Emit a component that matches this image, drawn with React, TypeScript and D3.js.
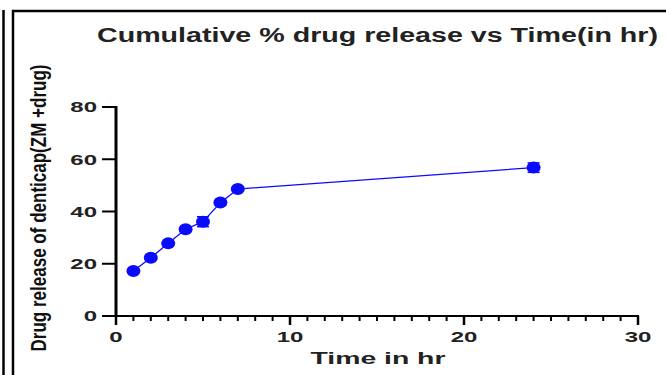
import React from "react";
import * as d3 from "d3";

const times = [1, 2, 3, 4, 5, 6, 7, 24];
const release = [17.2, 22.3, 27.8, 33.2, 36.1, 43.4, 48.6, 56.8];
const sd = [0.6, 0.6, 0.7, 0.7, 1.9, 0.8, 0.7, 1.8];
const xTicks = [0, 10, 20, 30];
const xMinor = d3.range(0, 31, 1);
const yTicks = [0, 20, 40, 60, 80];
const title = "Cumulative % drug release vs Time(in hr)";
const xLabel = "Time in hr";
const yLabel = "Drug release of denticap(ZM +drug)";

const FONT = "'Liberation Sans', Arial, sans-serif";
const BLUE = "#0a0aff";

export default function App() {
  const x = d3.scaleLinear().domain([0, 30]).range([116, 638]);
  const y = d3.scaleLinear().domain([0, 80]).range([316, 107]);
  const line = d3
    .line<number>()
    .x((_, i) => x(times[i]))
    .y((d) => y(d));

  return (
    <svg
      width={666}
      height={375}
      style={{ position: "absolute", left: 0, top: 0, background: "#fff" }}
    >
      {/* frame lines */}
      <line x1={3.5} y1={10} x2={3.5} y2={375} stroke="#000" strokeWidth={2.5} />
      <line x1={13} y1={10} x2={13} y2={375} stroke="#000" strokeWidth={2.5} />
      <line x1={12} y1={11} x2={666} y2={11} stroke="#000" strokeWidth={2.5} />

      {/* title */}
      <text
        x={377.5}
        y={42}
        textAnchor="middle"
        fontFamily={FONT}
        fontWeight="bold"
        fontSize={20}
        fill="#222"
        textLength={561}
        lengthAdjust="spacingAndGlyphs"
      >
        {title}
      </text>

      {/* y axis */}
      <line x1={x(0)} y1={y(80) - 1} x2={x(0)} y2={y(0) + 1} stroke="#000" strokeWidth={3} />
      {yTicks.map((t) => (
        <g key={"yt" + t}>
          <line x1={x(0) - 14} x2={x(0)} y1={y(t)} y2={y(t)} stroke="#000" strokeWidth={2} />
          <text
            transform={`translate(97,${y(t) + 5.3}) scale(1.6,1)`}
            textAnchor="end"
            fontFamily={FONT}
            fontWeight="bold"
            fontSize={15}
            fill="#222"
          >
            {t}
          </text>
        </g>
      ))}

      {/* x axis */}
      <line x1={x(0)} y1={y(0)} x2={x(30) + 1} y2={y(0)} stroke="#000" strokeWidth={2} />
      {xMinor.map((t) => (
        <line
          key={"xm" + t}
          x1={x(t)}
          x2={x(t)}
          y1={y(0)}
          y2={y(0) + (t % 10 === 0 ? 9 : 5)}
          stroke="#000"
          strokeWidth={t % 10 === 0 ? 2.5 : 2}
        />
      ))}
      {xTicks.map((t) => (
        <text
          key={"xt" + t}
          transform={`translate(${x(t)},342) scale(1.6,1)`}
          textAnchor="middle"
          fontFamily={FONT}
          fontWeight="bold"
          fontSize={15}
          fill="#222"
        >
          {t}
        </text>
      ))}

      {/* axis labels */}
      <text
        x={378}
        y={364}
        textAnchor="middle"
        fontFamily={FONT}
        fontWeight="bold"
        fontSize={17}
        fill="#222"
        textLength={135}
        lengthAdjust="spacingAndGlyphs"
      >
        {xLabel}
      </text>
      <text
        transform={`translate(46,208) rotate(-90) scale(1,1.3)`}
        textAnchor="middle"
        fontFamily={FONT}
        fontWeight="bold"
        fontSize={17}
        fill="#111"
        textLength={287}
        lengthAdjust="spacingAndGlyphs"
      >
        {yLabel}
      </text>

      {/* data */}
      <path d={line(release) || ""} fill="none" stroke={BLUE} strokeWidth={1.3} />
      {release.map((v, i) => (
        <g key={"e" + i}>
          <line
            x1={x(times[i])}
            x2={x(times[i])}
            y1={y(v - sd[i])}
            y2={y(v + sd[i])}
            stroke={BLUE}
            strokeWidth={1.5}
          />
          <line x1={x(times[i]) - 6} x2={x(times[i]) + 6} y1={y(v - sd[i])} y2={y(v - sd[i])} stroke={BLUE} strokeWidth={1.5} />
          <line x1={x(times[i]) - 6} x2={x(times[i]) + 6} y1={y(v + sd[i])} y2={y(v + sd[i])} stroke={BLUE} strokeWidth={1.5} />
        </g>
      ))}
      {release.map((v, i) => (
        <ellipse key={"p" + i} cx={x(times[i])} cy={y(v)} rx={7} ry={6} fill={BLUE} />
      ))}
    </svg>
  );
}
